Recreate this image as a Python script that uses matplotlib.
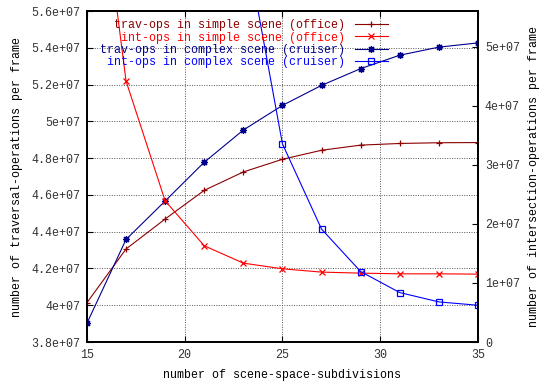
#!/usr/bin/env python3
"""Traversal / intersection operations vs. scene-space subdivisions"""

import matplotlib; matplotlib.use('Agg')
import matplotlib.pyplot as plt
from matplotlib.ticker import FormatStrFormatter, MultipleLocator

subdiv = [15, 17, 19, 21, 23, 25, 27, 29, 31, 33, 35]
trav_simple = [4.014e7, 4.306e7, 4.469e7, 4.625e7, 4.725e7, 4.794e7,
               4.843e7, 4.871e7, 4.880e7, 4.884e7, 4.885e7]
int_simple = [9.6e7, 4.417e7, 2.39e7, 1.629e7, 1.335e7, 1.239e7,
              1.183e7, 1.166e7, 1.154e7, 1.154e7, 1.149e7]
trav_complex = [3.902e7, 4.358e7, 4.567e7, 4.778e7, 4.953e7, 5.087e7,
                5.196e7, 5.287e7, 5.360e7, 5.404e7, 5.427e7]
int_complex = [3.2e8, 2.2e8, 1.5e8, 1.0e8, 6.97e7, 3.355e7,
               1.912e7, 1.193e7, 8.37e6, 6.79e6, 6.22e6]

labels = ['trav-ops in simple scene (office)',
          'int-ops in simple scene (office)',
          'trav-ops in complex scene (cruiser)',
          'int-ops in complex scene (cruiser)']

plt.rcParams['font.family'] = ['Liberation Mono', 'DejaVu Sans Mono']
plt.rcParams['font.size'] = 8.4

fig = plt.figure(figsize=(5.4, 3.83), dpi=100)
ax = fig.add_axes([0.161, 0.107, 0.724, 0.864])
ax2 = ax.twinx()

lw = 0.8
ms = 5
l1, = ax.plot(subdiv, trav_simple, color='#8b0000', lw=lw, marker='+',
              ms=ms, mew=0.9, label=labels[0])
l3, = ax.plot(subdiv, trav_complex, color='#00008b', lw=lw, marker=(8, 2, 0),
              ms=ms, mew=0.9, label=labels[2])
l2, = ax2.plot(subdiv, int_simple, color='#ff0000', lw=lw, marker='x',
               ms=4.5, mew=0.9, label=labels[1])
l4, = ax2.plot(subdiv, int_complex, color='#0000ff', lw=lw, marker='s',
               ms=4.5, mew=0.9, mfc='none', label=labels[3])

ax.set_xlim(15, 35)
ax.set_ylim(3.8e7, 5.6e7)
ax2.set_ylim(0, 5.6e7)
ax.xaxis.set_major_locator(MultipleLocator(5))
ax.yaxis.set_major_locator(MultipleLocator(2e6))
ax2.yaxis.set_major_locator(MultipleLocator(1e7))
ax.yaxis.set_major_formatter(FormatStrFormatter('%g'))
ax2.yaxis.set_major_formatter(FormatStrFormatter('%g'))

ax.grid(True, linestyle=(0, (1, 1.5)), color='#555555', lw=0.7)
ax.tick_params(direction='in', length=4, top=True, right=False, pad=5,
               labelcolor='#333333')
ax2.tick_params(direction='in', length=4, pad=5, labelcolor='#333333')
for a in (ax, ax2):
    for s in a.spines.values():
        s.set_linewidth(1.3)

ax.set_xlabel('number of scene-space-subdivisions', labelpad=6)
ax.set_ylabel('number of traversal-operations per frame', labelpad=6)
ax2.set_ylabel('number of intersection-operations per frame', labelpad=6)

leg = ax2.legend(handles=[l1, l2, l3, l4], loc='upper right',
                 bbox_to_anchor=(0.792, 1.0), frameon=False,
                 markerfirst=False, labelcolor='linecolor', numpoints=1,
                 handlelength=2.9, handletextpad=0.8, labelspacing=0.02,
                 borderaxespad=0.3)
for t in leg.get_texts():
    t.set_horizontalalignment('right')
leg._legend_box.align = 'right'

fig.savefig('out.png', dpi=100)
